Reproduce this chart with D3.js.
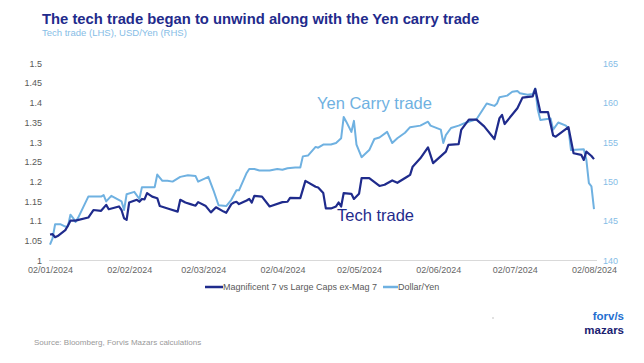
<!DOCTYPE html>
<html>
<head>
<meta charset="utf-8">
<script src="https://cdn.jsdelivr.net/npm/d3@7"></script>
<style>
  body { margin: 0; background: #fff; }
  svg { font-family: "Liberation Sans", Arial, sans-serif; display: block; }
</style>
</head>
<body>
<div class="container"></div>
<script>
// dimensions
const w = 644;
const h = 363;

// data
const techDates = ['2024-01-02', '2024-01-03', '2024-01-04', '2024-01-05', '2024-01-08', '2024-01-09', '2024-01-10', '2024-01-12',
  '2024-01-17', '2024-01-19', '2024-01-22', '2024-01-24', '2024-01-25', '2024-01-29', '2024-01-30', '2024-01-31',
  '2024-02-01', '2024-02-02', '2024-02-05', '2024-02-06', '2024-02-07', '2024-02-08', '2024-02-09', '2024-02-11',
  '2024-02-13', '2024-02-14', '2024-02-18', '2024-02-21', '2024-02-22', '2024-02-24', '2024-02-26', '2024-02-28',
  '2024-02-29', '2024-03-03', '2024-03-05', '2024-03-07', '2024-03-10', '2024-03-11', '2024-03-13', '2024-03-14',
  '2024-03-15', '2024-03-16', '2024-03-19', '2024-03-20', '2024-03-21', '2024-03-22', '2024-03-25', '2024-03-28',
  '2024-04-02', '2024-04-04', '2024-04-05', '2024-04-09', '2024-04-11', '2024-04-15', '2024-04-16', '2024-04-18',
  '2024-04-19', '2024-04-21', '2024-04-23', '2024-04-24', '2024-04-25', '2024-04-26', '2024-04-29', '2024-04-30',
  '2024-05-02', '2024-05-03', '2024-05-06', '2024-05-10', '2024-05-12', '2024-05-15', '2024-05-17', '2024-05-21',
  '2024-05-22', '2024-05-23', '2024-05-26', '2024-05-29', '2024-05-31', '2024-06-05', '2024-06-06', '2024-06-10',
  '2024-06-11', '2024-06-14', '2024-06-17', '2024-06-20', '2024-06-24', '2024-06-26', '2024-06-27', '2024-06-28',
  '2024-07-03', '2024-07-05', '2024-07-09', '2024-07-10', '2024-07-12', '2024-07-15', '2024-07-17', '2024-07-18',
  '2024-07-23', '2024-07-25', '2024-07-28', '2024-07-29', '2024-07-30', '2024-08-01', '2024-08-02'];
const techValues = [1.066, 1.067, 1.059, 1.062, 1.077, 1.088, 1.101, 1.101,
  1.109, 1.128, 1.126, 1.141, 1.130, 1.137, 1.128, 1.107,
  1.103, 1.147, 1.154, 1.149, 1.156, 1.155, 1.171, 1.162,
  1.158, 1.138, 1.130, 1.124, 1.154, 1.147, 1.143, 1.139,
  1.148, 1.138, 1.122, 1.135, 1.124, 1.121, 1.143, 1.147,
  1.149, 1.143, 1.152, 1.156, 1.147, 1.164, 1.162, 1.137,
  1.148, 1.149, 1.159, 1.158, 1.202, 1.187, 1.185, 1.171,
  1.132, 1.132, 1.137, 1.147, 1.137, 1.171, 1.169, 1.156,
  1.169, 1.209, 1.209, 1.189, 1.192, 1.203, 1.197, 1.213,
  1.217, 1.238, 1.259, 1.287, 1.247, 1.276, 1.293, 1.295,
  1.331, 1.357, 1.357, 1.340, 1.308, 1.361, 1.369, 1.346,
  1.386, 1.413, 1.416, 1.435, 1.376, 1.376, 1.317, 1.314,
  1.338, 1.272, 1.268, 1.255, 1.276, 1.265, 1.257];

const yenDates = ['2024-01-02', '2024-01-03', '2024-01-04', '2024-01-06', '2024-01-08', '2024-01-09', '2024-01-10', '2024-01-11',
  '2024-01-12', '2024-01-13', '2024-01-17', '2024-01-22', '2024-01-23', '2024-01-24', '2024-01-26', '2024-01-30',
  '2024-01-31', '2024-02-01', '2024-02-04', '2024-02-06', '2024-02-07', '2024-02-12', '2024-02-13', '2024-02-15',
  '2024-02-17', '2024-02-19', '2024-02-22', '2024-02-25', '2024-02-28', '2024-02-29', '2024-03-04', '2024-03-06',
  '2024-03-08', '2024-03-11', '2024-03-13', '2024-03-15', '2024-03-16', '2024-03-19', '2024-03-20', '2024-03-22',
  '2024-03-24', '2024-03-28', '2024-03-31', '2024-04-02', '2024-04-04', '2024-04-07', '2024-04-09', '2024-04-10',
  '2024-04-12', '2024-04-15', '2024-04-16', '2024-04-18', '2024-04-21', '2024-04-23', '2024-04-25', '2024-04-26',
  '2024-04-27', '2024-04-29', '2024-04-30', '2024-05-01', '2024-05-03', '2024-05-06', '2024-05-08', '2024-05-10',
  '2024-05-13', '2024-05-15', '2024-05-17', '2024-05-20', '2024-05-22', '2024-05-26', '2024-05-29', '2024-05-30',
  '2024-06-03', '2024-06-04', '2024-06-05', '2024-06-07', '2024-06-10', '2024-06-13', '2024-06-17', '2024-06-21',
  '2024-06-24', '2024-06-25', '2024-06-26', '2024-06-29', '2024-07-01', '2024-07-03', '2024-07-04', '2024-07-07',
  '2024-07-09', '2024-07-10', '2024-07-11', '2024-07-12', '2024-07-16', '2024-07-17', '2024-07-19', '2024-07-22',
  '2024-07-23', '2024-07-24', '2024-07-29', '2024-07-30', '2024-07-31', '2024-08-01', '2024-08-02'];
const yenValues = [142.0, 142.8, 144.6, 144.6, 144.3, 144.3, 145.8, 145.4,
  144.9, 145.4, 148.1, 148.1, 148.3, 147.5, 148.2, 147.5,
  146.4, 148.4, 148.7, 147.8, 149.3, 149.3, 150.9, 150.1,
  150.1, 150.0, 150.6, 150.8, 150.7, 150.0, 150.6, 148.9,
  147.0, 146.9, 147.7, 148.9, 148.9, 151.1, 151.6, 151.6,
  151.4, 151.4, 151.6, 151.5, 151.7, 151.8, 151.8, 153.2,
  153.3, 154.4, 154.3, 154.7, 154.7, 154.9, 155.5, 158.2,
  157.6, 156.3, 157.7, 154.7, 153.1, 154.0, 155.4, 155.6,
  156.3, 154.9, 155.5, 156.2, 156.9, 157.1, 157.6, 157.1,
  156.6, 154.9, 155.9, 156.8, 157.1, 157.5, 157.9, 159.9,
  159.6, 159.9, 160.7, 160.9, 161.4, 161.5, 161.2, 161.0,
  161.1, 161.8, 159.1, 157.8, 158.0, 156.6, 157.5, 157.1,
  156.7, 154.0, 154.1, 152.8, 149.8, 149.4, 146.5];

const xTickDates = ['2024-01-02', '2024-02-02', '2024-03-02', '2024-04-02', '2024-05-02', '2024-06-02', '2024-07-02', '2024-08-02'];
const leftTicks = [1, 1.05, 1.1, 1.15, 1.2, 1.25, 1.3, 1.35, 1.4, 1.45, 1.5];
const leftTickLabels = ['1', '1.05', '1.1', '1.15', '1.2', '1.25', '1.3', '1.35', '1.4', '1.45', '1.5'];
const rightTicks = [140, 145, 150, 155, 160, 165];
const seriesNames = ['Magnificent 7 vs Large Caps ex-Mag 7', 'Dollar/Yen'];

// colours
const navy = '#1f2b8c';
const light = '#6fb1e1';

const parse = d3.timeParse('%Y-%m-%d');
const tech = techDates.map((d, i) => [parse(d), techValues[i]]);
const yen = yenDates.map((d, i) => [parse(d), yenValues[i]]);

const svg = d3.select('.container').append('svg')
  .attr('width', w)
  .attr('height', h);

// scales
const xScale = d3.scaleTime()
  .domain([parse('2024-01-02'), parse('2024-08-02')])
  .range([50, 594]);
const yLeft = d3.scaleLinear()
  .domain([1, 1.5])
  .range([260.5, 63.3]);
const yRight = d3.scaleLinear()
  .domain([140, 165])
  .range([260.5, 63.3]);

// title
svg.append('text')
  .attr('x', 42).attr('y', 24)
  .attr('font-size', 14.8).attr('font-weight', 'bold')
  .attr('fill', navy)
  .text('The tech trade began to unwind along with the Yen carry trade');
svg.append('text')
  .attr('x', 42).attr('y', 36)
  .attr('font-size', 9.5)
  .attr('fill', '#86bde6')
  .text('Tech trade (LHS), USD/Yen (RHS)');

// baseline
svg.append('line')
  .attr('x1', xScale.range()[0] - 1).attr('x2', xScale.range()[1] + 3)
  .attr('y1', yLeft(1)).attr('y2', yLeft(1))
  .attr('stroke', '#d9d9d9').attr('stroke-width', 1);

// axes
const xAxis = d3.axisBottom(xScale)
  .tickValues(xTickDates.map(parse))
  .tickFormat(d3.timeFormat('%d/%m/%Y'))
  .tickSize(0).tickPadding(6);
svg.append('g')
  .attr('transform', 'translate(0,' + yLeft(1) + ')')
  .call(xAxis)
  .call(g => g.select('.domain').remove())
  .selectAll('text')
  .attr('font-size', 9).attr('fill', '#666').attr('font-family', null);

const yAxisLeft = d3.axisLeft(yLeft)
  .tickValues(leftTicks)
  .tickFormat((d, i) => leftTickLabels[i])
  .tickSize(0).tickPadding(0);
svg.append('g')
  .attr('transform', 'translate(42,0)')
  .call(yAxisLeft)
  .call(g => g.select('.domain').remove())
  .selectAll('text')
  .attr('font-size', 9).attr('fill', '#595959').attr('font-family', null);

const yAxisRight = d3.axisRight(yRight)
  .tickValues(rightTicks)
  .tickSize(0).tickPadding(0);
svg.append('g')
  .attr('transform', 'translate(603,0)')
  .call(yAxisRight)
  .call(g => g.select('.domain').remove())
  .selectAll('text')
  .attr('font-size', 9).attr('fill', '#86bde6').attr('font-family', null);

// lines
const lineLeft = d3.line().x(d => xScale(d[0])).y(d => yLeft(d[1]));
const lineRight = d3.line().x(d => xScale(d[0])).y(d => yRight(d[1]));

svg.append('path')
  .datum(yen)
  .attr('d', lineRight)
  .attr('fill', 'none')
  .attr('stroke', light)
  .attr('stroke-width', 2)
  .attr('stroke-linejoin', 'round');
svg.append('path')
  .datum(tech)
  .attr('d', lineLeft)
  .attr('fill', 'none')
  .attr('stroke', navy)
  .attr('stroke-width', 2.2)
  .attr('stroke-linejoin', 'round');

// annotations on the chart
svg.append('text')
  .attr('x', 317).attr('y', 109)
  .attr('font-size', 16.5)
  .attr('fill', light)
  .text('Yen Carry trade');
svg.append('text')
  .attr('x', 337).attr('y', 221)
  .attr('font-size', 16.5)
  .attr('fill', navy)
  .text('Tech trade');

// legend
const legend = svg.append('g').attr('transform', 'translate(0,287)');
const legendX = [205, 383];
const legendW = [18, 15];
[navy, light].forEach((c, i) => {
  legend.append('line')
    .attr('x1', legendX[i]).attr('x2', legendX[i] + legendW[i])
    .attr('y1', 0).attr('y2', 0)
    .attr('stroke', c).attr('stroke-width', 2.5);
  legend.append('text')
    .attr('x', legendX[i] + legendW[i]).attr('y', 3)
    .attr('font-size', 9).attr('fill', '#595959')
    .text(seriesNames[i]);
});

// source
svg.append('text')
  .attr('x', 34).attr('y', 345)
  .attr('font-size', 8).attr('fill', '#999')
  .text('Source: Bloomberg, Forvis Mazars calculations');

// small mark in the picture
svg.append('circle')
  .attr('cx', 493).attr('cy', 318).attr('r', 0.8)
  .attr('fill', '#bbb');

// logo
svg.append('text')
  .attr('x', 624).attr('y', 320)
  .attr('text-anchor', 'end')
  .attr('font-size', 11.5).attr('font-weight', 'bold')
  .attr('fill', '#1f6fd0')
  .text('forv/s');
svg.append('text')
  .attr('x', 624).attr('y', 334)
  .attr('text-anchor', 'end')
  .attr('font-size', 11.5).attr('font-weight', 'bold')
  .attr('fill', '#1a2170')
  .text('mazars');
</script>
</body>
</html>
